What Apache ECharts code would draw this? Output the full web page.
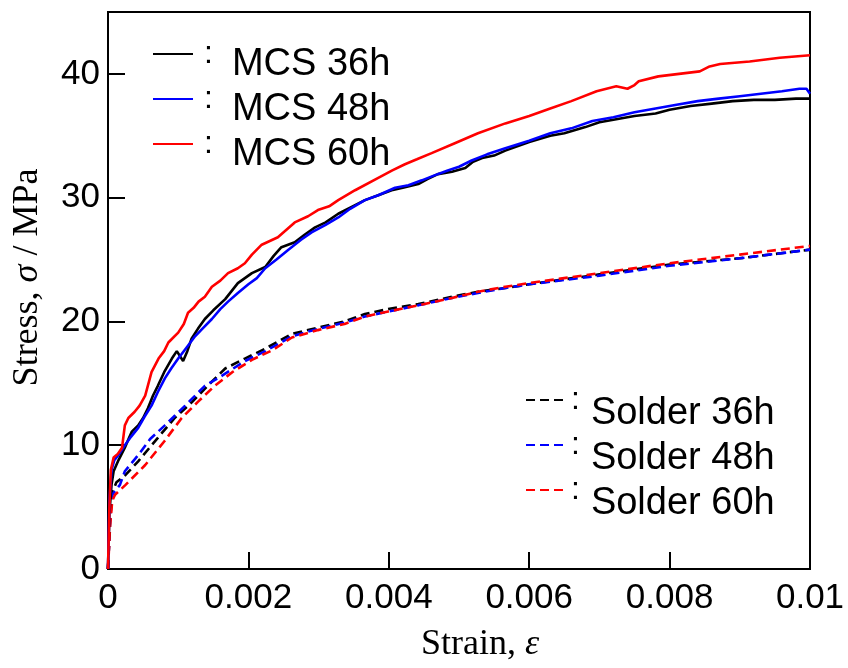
<!DOCTYPE html>
<html>
<head>
<meta charset="utf-8">
<script src="https://cdn.jsdelivr.net/npm/echarts@6/dist/echarts.min.js"></script>
<style>html,body{margin:0;padding:0;background:#fff}#c{width:848px;height:668px}</style>
</head>
<body>
<div id="c"></div>
<script>
const xTicks = [0, 0.002, 0.004, 0.006, 0.008, 0.01];
const yTicks = [0, 10, 20, 30, 40];
const seriesNames = ['MCS 36h', 'MCS 48h', 'MCS 60h', 'Solder 36h', 'Solder 48h', 'Solder 60h'];

const mcs36Strain = [0, 0.00002, 0.00005, 0.00008, 0.00015, 0.00024, 0.00030, 0.00034, 0.00043, 0.00050, 0.00057, 0.00064, 0.00071, 0.00080, 0.00091, 0.00098, 0.00107, 0.00113, 0.00119, 0.00128, 0.00138, 0.00150, 0.00167, 0.00185, 0.00205, 0.00224, 0.00236, 0.00247, 0.00266, 0.00280, 0.00295, 0.00310, 0.00328, 0.00345, 0.00366, 0.00385, 0.00404, 0.00420, 0.00442, 0.00455, 0.00470, 0.00490, 0.00509, 0.00520, 0.00533, 0.00550, 0.00566, 0.00600, 0.00630, 0.00650, 0.00680, 0.00700, 0.00720, 0.00750, 0.00780, 0.00800, 0.00830, 0.00860, 0.00890, 0.00920, 0.00950, 0.00980, 0.01];
const mcs36Stress = [0, 4.5, 6.8, 7.9, 8.8, 9.8, 10.6, 11.1, 11.6, 12.2, 13.0, 14.0, 14.8, 15.9, 17.0, 17.6, 16.8, 17.6, 18.6, 19.4, 20.2, 20.9, 21.8, 23.1, 23.9, 24.4, 25.3, 26.0, 26.4, 27.0, 27.6, 28.0, 28.7, 29.2, 29.8, 30.2, 30.6, 30.8, 31.1, 31.5, 31.9, 32.1, 32.4, 32.9, 33.2, 33.4, 33.8, 34.5, 35.0, 35.2, 35.7, 36.1, 36.3, 36.6, 36.8, 37.1, 37.4, 37.6, 37.8, 37.9, 37.9, 38.0, 38.0];

const mcs48Strain = [0, 0.00002, 0.00005, 0.00009, 0.00016, 0.00024, 0.00033, 0.00043, 0.00052, 0.00062, 0.00071, 0.00081, 0.00090, 0.00100, 0.00112, 0.00124, 0.00136, 0.00148, 0.00160, 0.00171, 0.00185, 0.00200, 0.00212, 0.00224, 0.00240, 0.00257, 0.00275, 0.00290, 0.00310, 0.00328, 0.00345, 0.00366, 0.00385, 0.00409, 0.00428, 0.00447, 0.00465, 0.00484, 0.00500, 0.00518, 0.00540, 0.00566, 0.00600, 0.00630, 0.00660, 0.00690, 0.00720, 0.00750, 0.00780, 0.00810, 0.00840, 0.00870, 0.00900, 0.00930, 0.00960, 0.00985, 0.00995, 0.01];
const mcs48Stress = [0, 5.5, 8.0, 8.8, 9.3, 10.0, 10.7, 11.4, 12.3, 13.2, 14.3, 15.4, 16.2, 17.0, 17.9, 18.8, 19.5, 20.2, 21.0, 21.6, 22.3, 23.0, 23.5, 24.3, 25.0, 25.8, 26.6, 27.2, 27.8, 28.4, 29.1, 29.8, 30.2, 30.8, 31.0, 31.4, 31.8, 32.2, 32.5, 33.0, 33.5, 34.0, 34.6, 35.2, 35.6, 36.2, 36.5, 36.9, 37.2, 37.5, 37.8, 38.0, 38.2, 38.4, 38.6, 38.8, 38.8, 38.4];

const mcs60Strain = [0, 0.00002, 0.00004, 0.00008, 0.00014, 0.00020, 0.00024, 0.00029, 0.00038, 0.00045, 0.00053, 0.00062, 0.00072, 0.00080, 0.00086, 0.00100, 0.00108, 0.00114, 0.00122, 0.00129, 0.00138, 0.00148, 0.00160, 0.00171, 0.00185, 0.00195, 0.00205, 0.00219, 0.00242, 0.00266, 0.00285, 0.00299, 0.00315, 0.00328, 0.00352, 0.00385, 0.00405, 0.00423, 0.00440, 0.00461, 0.00494, 0.00527, 0.00566, 0.00600, 0.00630, 0.00660, 0.00696, 0.00724, 0.00740, 0.00750, 0.00756, 0.00784, 0.00843, 0.00857, 0.00872, 0.00914, 0.00957, 0.01];
const mcs60Stress = [0, 5.0, 8.0, 9.0, 9.3, 9.8, 11.6, 12.2, 12.7, 13.2, 14.0, 15.9, 17.0, 17.6, 18.3, 19.1, 19.8, 20.7, 21.1, 21.6, 22.0, 22.8, 23.3, 23.9, 24.3, 24.7, 25.4, 26.2, 26.8, 28.0, 28.5, 29.0, 29.3, 29.8, 30.6, 31.6, 32.2, 32.7, 33.1, 33.6, 34.4, 35.2, 36.0, 36.6, 37.2, 37.8, 38.6, 39.0, 38.8, 39.1, 39.4, 39.8, 40.2, 40.6, 40.8, 41.0, 41.3, 41.5];

const sol36Strain = [0, 0.00003, 0.00006, 0.00012, 0.00025, 0.00043, 0.00071, 0.00095, 0.00120, 0.00142, 0.00167, 0.00195, 0.00224, 0.00262, 0.00299, 0.00337, 0.00366, 0.00399, 0.00442, 0.00490, 0.00527, 0.00566, 0.006, 0.007, 0.008, 0.009, 0.01];
const sol36Stress = [0, 4.0, 6.2, 7.0, 7.6, 8.7, 10.6, 12.2, 13.5, 14.8, 16.2, 17.0, 17.8, 19.0, 19.5, 20.0, 20.6, 21.0, 21.4, 22.0, 22.4, 22.7, 23.0, 23.8, 24.6, 25.1, 25.8];

const sol48Strain = [0, 0.00003, 0.00006, 0.00017, 0.00024, 0.00043, 0.00060, 0.00081, 0.00110, 0.00138, 0.00162, 0.00195, 0.00224, 0.00262, 0.00299, 0.00337, 0.00366, 0.00399, 0.00442, 0.00490, 0.00527, 0.00566, 0.006, 0.007, 0.008, 0.009, 0.01];
const sol48Stress = [0, 4.0, 6.0, 6.8, 7.9, 9.2, 10.5, 11.6, 13.2, 14.8, 15.6, 16.8, 17.6, 18.8, 19.4, 19.9, 20.4, 20.8, 21.3, 21.9, 22.3, 22.7, 23.0, 23.7, 24.5, 25.1, 25.8];

const sol60Strain = [0, 0.00003, 0.00006, 0.00010, 0.00025, 0.00053, 0.00080, 0.00105, 0.00128, 0.00152, 0.00177, 0.00205, 0.00235, 0.00262, 0.00299, 0.00337, 0.00366, 0.00399, 0.00442, 0.00490, 0.00527, 0.00566, 0.006, 0.007, 0.008, 0.009, 0.01];
const sol60Stress = [0, 3.5, 5.5, 6.0, 6.8, 8.4, 10.3, 12.2, 13.5, 14.8, 15.9, 16.9, 17.7, 18.7, 19.3, 19.8, 20.4, 20.8, 21.3, 21.9, 22.4, 22.8, 23.1, 23.9, 24.7, 25.4, 26.1];

const zip = (a, b) => a.map((v, i) => [v, b[i]]);
const strains = [mcs36Strain, mcs48Strain, mcs60Strain, sol36Strain, sol48Strain, sol60Strain];
const stresses = [mcs36Stress, mcs48Stress, mcs60Stress, sol36Stress, sol48Stress, sol60Stress];
const colors = ['#000000', '#0000ff', '#ff0000', '#000000', '#0000ff', '#ff0000'];

const series = seriesNames.map((n, i) => ({
  name: n,
  type: 'line',
  symbol: 'none',
  showSymbol: false,
  smooth: false,
  z: i < 3 ? 3 : 2,
  data: zip(strains[i], stresses[i]),
  lineStyle: { color: colors[i], width: 2.6, type: i < 3 ? 'solid' : [9, 5] },
  itemStyle: { color: colors[i] }
}));

function legendRich(padL, padR, padTop) {
  return {
    c: { fontFamily: 'Liberation Sans', fontSize: 32, lineHeight: 32, color: '#000', verticalAlign: 'middle', padding: [0, padR, 0, padL] },
    t: { fontFamily: 'Liberation Sans', fontSize: 38, color: '#000', lineHeight: 28, verticalAlign: 'middle', padding: [padTop, 0, 0, 0] }
  };
}

const chart = echarts.init(document.getElementById('c'), null, { renderer: 'canvas' });
chart.setOption({
  animation: false,
  backgroundColor: '#fff',
  grid: { left: 108, right: 38, top: 12, bottom: 96, show: true, borderColor: '#000', borderWidth: 2, backgroundColor: 'transparent' },
  legend: [
    {
      data: seriesNames.slice(0, 3),
      orient: 'vertical',
      left: 152, top: 24,
      padding: 0,
      itemWidth: 40, itemHeight: 2, itemGap: -15,
      itemStyle: { opacity: 0, borderWidth: 0 },
      formatter: n => '{c|:}{t|' + n + '}',
      textStyle: { rich: legendRich(6, 19, 22) },
      selectedMode: false
    },
    {
      data: seriesNames.slice(3),
      orient: 'vertical',
      left: 525, top: 367,
      padding: 0,
      itemWidth: 40, itemHeight: 2, itemGap: -21,
      itemStyle: { opacity: 0, borderWidth: 0 },
      formatter: n => '{c|:}{t|' + n + '}',
      textStyle: { rich: legendRich(0, 11, 28) },
      selectedMode: false
    }
  ],
  xAxis: {
    type: 'value',
    min: 0, max: 0.01, interval: 0.002,
    name: '{n|Strain, }{i|ε}',
    nameLocation: 'middle',
    nameGap: 58,
    nameTextStyle: {
      padding: [0, 0, 0, 42],
      rich: {
        n: { fontFamily: 'Liberation Serif', fontSize: 36, color: '#000' },
        i: { fontFamily: 'Liberation Serif', fontStyle: 'italic', fontSize: 36, color: '#000' }
      }
    },
    axisLine: { show: true, onZero: false, lineStyle: { color: '#000', width: 2 } },
    axisTick: { show: true, inside: true, length: 17, lineStyle: { color: '#000', width: 2 } },
    splitLine: { show: false },
    axisLabel: {
      fontFamily: 'Liberation Sans', fontSize: 35, color: '#000', margin: 12,
      formatter: v => {
        const t = xTicks.find(k => Math.abs(k - v) < 1e-9);
        if (t === undefined) return '';
        return t === 0 ? '0' : String(parseFloat(t.toFixed(3)));
      }
    }
  },
  yAxis: {
    type: 'value',
    min: 0, max: 45, interval: 10,
    name: '{n|Stress, }{i|σ}{n| / MPa}',
    nameLocation: 'middle',
    nameGap: 62,
    nameRotate: 90,
    nameTextStyle: {
      padding: [0, 0, 0, 26],
      rich: {
        n: { fontFamily: 'Liberation Serif', fontSize: 36, color: '#000' },
        i: { fontFamily: 'Liberation Serif', fontStyle: 'italic', fontSize: 36, color: '#000' }
      }
    },
    axisLine: { show: true, onZero: false, lineStyle: { color: '#000', width: 2 } },
    axisTick: { show: true, inside: true, length: 17, lineStyle: { color: '#000', width: 2 } },
    splitLine: { show: false },
    axisLabel: {
      fontFamily: 'Liberation Sans', fontSize: 35, color: '#000', margin: 8,
      formatter: v => (yTicks.indexOf(v) >= 0 ? String(v) : '')
    }
  },
  series: series
});
</script>
</body>
</html>
